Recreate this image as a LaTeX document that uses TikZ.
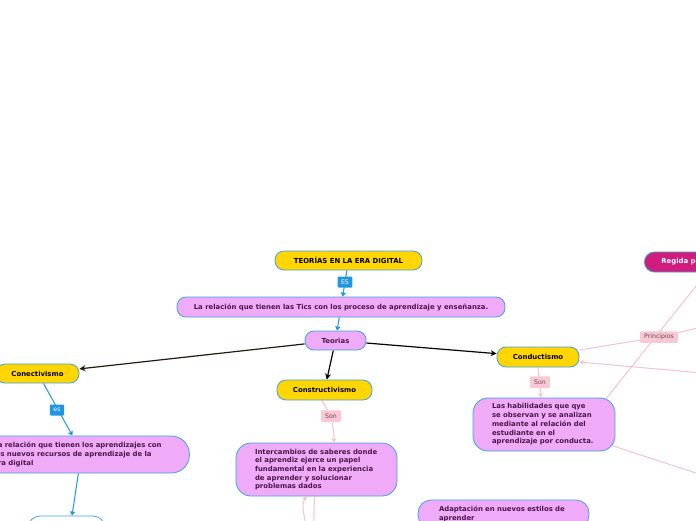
\documentclass[tikz,border=0pt]{standalone}
\usepackage{fontspec}
\setmainfont{DejaVu Sans}
\usetikzlibrary{arrows.meta,backgrounds}
\definecolor{ygold}{HTML}{FFD600}
\definecolor{bbord}{HTML}{3DA2E6}
\definecolor{pnode}{HTML}{EFAAF8}
\definecolor{ptext}{HTML}{4A1748}
\definecolor{bline}{HTML}{2196E0}
\definecolor{pline}{HTML}{F8C2CF}
\definecolor{plab}{HTML}{F9C8D2}
\definecolor{plabtext}{HTML}{6A4A5A}
\definecolor{mag}{HTML}{D01C7C}
\definecolor{brn}{HTML}{2A1810}
\tikzset{
  base/.style={rounded corners=9pt, draw=bbord, line width=0.8pt,
    font=\fontsize{6.9}{8.7}\selectfont\bfseries, inner sep=0pt},
  ynode/.style={base, fill=ygold, text=black},
  pknode/.style={base, fill=pnode, text=ptext},
  bignode/.style={base, fill=pnode, text=ptext, rounded corners=15pt, align=left},
  magnode/.style={base, fill=mag, text=white},
  bluelab/.style={fill=bline, text=white, font=\fontsize{6.2}{7}\selectfont,
    inner xsep=3.5pt, inner ysep=0pt, minimum height=11pt, rounded corners=1pt},
  pinklab/.style={fill=plab, text=plabtext, font=\fontsize{6.2}{7}\selectfont,
    inner xsep=4pt, inner ysep=0pt, minimum height=11.5pt, rounded corners=1pt},
  bconn/.style={draw=bline, line width=1pt, -{Triangle[width=5pt,length=4pt]}},
  kconn/.style={draw=black, line width=1.2pt, -{Stealth[width=6pt,length=6pt]}},
  pconn/.style={draw=pline, line width=1pt},
  parrow/.style={pconn, -{Stealth[width=5pt,length=4.5pt]}}
}
\begin{document}
\begin{tikzpicture}[x=1pt,y=-1pt]
\useasboundingbox (0,0) rectangle (696,520);

% main nodes
\node[ynode, minimum width=147pt, minimum height=19pt] (title) at (348.5,260.5) {TEORÍAS EN LA ERA DIGITAL};
\node[pknode, minimum width=328pt, minimum height=20pt] (rel) at (341,307) {La relación que tienen las Tics con los proceso de aprendizaje y enseñanza.};
\node[pknode, minimum width=61pt, minimum height=19pt] (teo) at (335.5,340.5) {Teorias};
\node[ynode, minimum width=83pt, minimum height=19pt] (conect) at (37.5,373.5) {Conectivismo};
\node[ynode, minimum width=95pt, minimum height=20pt] (constr) at (324.5,390) {Constructivismo};
\node[ynode, minimum width=82pt, minimum height=20pt] (conduct) at (538,357) {Conductismo};
\node[magnode, anchor=west, text width=80pt, inner xsep=17pt, minimum height=20pt, align=left, rounded corners=10pt] (regida) at (644,262) {Regida por};
\node[bignode, anchor=west, text width=170pt, inner xsep=26pt, minimum height=37pt, rounded corners=18pt] (relcon) at (-33,454.5)
  {La relación que tienen los aprendizajes con\\los nuevos recursos de aprendizaje de la\\era digital};
\node[base, fill=white, minimum width=77pt, minimum height=28pt, rounded corners=12pt] (bot) at (66.5,530) {};
\node[bignode, text width=123pt, inner xsep=19pt, minimum height=53pt] (inter) at (316.5,469.5)
  {Intercambios de saberes donde\\el aprendiz ejerce un papel\\fundamental en la experiencia\\de aprender y solucionar\\problemas dados};
\node[bignode, text width=104pt, inner xsep=19pt, minimum height=53pt] (hab) at (544,424.5)
  {Las habilidades que qye\\se observan y se analizan\\mediante al relación del\\estudiante en el\\aprendizaje por conducta.};
\node[bignode, text width=129pt, inner xsep=21pt, minimum height=28pt, rounded corners=13pt] (adap) at (503.5,514)
  {Adaptación en nuevos estilos de\\aprender};

% labels
\node[bluelab] (es1) at (345,282) {ES};
\node[bluelab] (es2) at (57,410) {es};
\node[pinklab] (son1) at (331,416) {Son};
\node[pinklab] (son2) at (540,382) {Son};
\node[pinklab] (prin) at (659,337) {Principios};

% free ends
\coordinate (pend) at (702,327);
\coordinate (in1) at (702,373);
\coordinate (out2) at (702,475);
\coordinate (b1) at (308,530);
\coordinate (b2) at (313.5,530);

\begin{scope}[on background layer]
\fill[white] (0,0) rectangle (696,520);
\draw[bconn] (title) -- (rel);
\draw[bconn] (rel) -- (teo);
\draw[kconn, draw=brn] (teo) -- (conect);
\draw[kconn] (teo) -- (constr);
\draw[kconn] (teo) -- (conduct);
\draw[bconn] ([xshift=6pt]conect.south) -- ([xshift=-6pt]relcon.north);
\draw[bconn] (relcon.south) -- ([xshift=5.5pt]bot.north);
\draw[parrow] ([xshift=-3pt]constr.south) .. controls (330,412) and (334,425) .. ([xshift=17.5pt]inter.north);
\draw[parrow] (conduct.south) -- ([xshift=-3pt]hab.north);
\draw[pconn] ([yshift=7pt]conduct.east) -- (prin) -- (pend);
\draw[parrow] (in1) -- ([yshift=-5pt]conduct.east);
\draw[pconn] ([xshift=-10pt,yshift=-2pt]hab.north east) -- ([xshift=5.6pt]regida.south);
\draw[pconn] ([xshift=-4pt,yshift=6pt]hab.south east) -- (out2);
\draw[parrow] (b1) .. controls (302,512) and (302,503) .. ([xshift=-10pt]inter.south);
\draw[pconn] (b2) -- ([xshift=-2pt]inter.south);
\end{scope}
\end{tikzpicture}
\end{document}
